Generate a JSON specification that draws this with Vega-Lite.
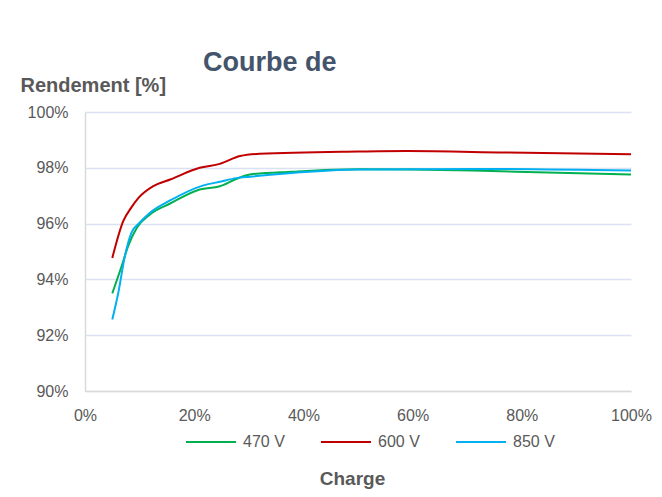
{
  "$schema": "https://vega.github.io/schema/vega-lite/v6.json",
  "autosize": "none",
  "width": 546,
  "height": 279,
  "padding": {"left": 85, "top": 112, "right": 31, "bottom": 106},
  "background": "white",
  "title": {
    "text": "Courbe de",
    "anchor": "start",
    "frame": "group",
    "dx": 118,
    "offset": -2,
    "font": "Liberation Sans",
    "fontSize": 27,
    "fontWeight": "bold",
    "color": "#44546A"
  },
  "data": {
    "values": [
      {"s": "470 V", "c": 0.05, "r": 0.935},
      {"s": "470 V", "c": 0.067, "r": 0.9447},
      {"s": "470 V", "c": 0.079, "r": 0.9519},
      {"s": "470 V", "c": 0.095, "r": 0.9585},
      {"s": "470 V", "c": 0.119, "r": 0.9633},
      {"s": "470 V", "c": 0.156, "r": 0.9672},
      {"s": "470 V", "c": 0.21, "r": 0.9722},
      {"s": "470 V", "c": 0.247, "r": 0.9734},
      {"s": "470 V", "c": 0.277, "r": 0.976},
      {"s": "470 V", "c": 0.302, "r": 0.9776},
      {"s": "470 V", "c": 0.38, "r": 0.9786},
      {"s": "470 V", "c": 0.5, "r": 0.9795},
      {"s": "470 V", "c": 0.71, "r": 0.979},
      {"s": "470 V", "c": 0.79, "r": 0.9786},
      {"s": "470 V", "c": 1.0, "r": 0.9776},
      {"s": "600 V", "c": 0.05, "r": 0.9477},
      {"s": "600 V", "c": 0.07, "r": 0.9609},
      {"s": "600 V", "c": 0.085, "r": 0.9658},
      {"s": "600 V", "c": 0.098, "r": 0.9692},
      {"s": "600 V", "c": 0.125, "r": 0.9734},
      {"s": "600 V", "c": 0.156, "r": 0.9758},
      {"s": "600 V", "c": 0.21, "r": 0.98},
      {"s": "600 V", "c": 0.247, "r": 0.9814},
      {"s": "600 V", "c": 0.284, "r": 0.9842},
      {"s": "600 V", "c": 0.32, "r": 0.985},
      {"s": "600 V", "c": 0.5, "r": 0.9858},
      {"s": "600 V", "c": 0.59, "r": 0.986},
      {"s": "600 V", "c": 0.77, "r": 0.9855},
      {"s": "600 V", "c": 1.0, "r": 0.9849},
      {"s": "850 V", "c": 0.05, "r": 0.9256},
      {"s": "850 V", "c": 0.061, "r": 0.9352},
      {"s": "850 V", "c": 0.073, "r": 0.9483},
      {"s": "850 V", "c": 0.085, "r": 0.9567},
      {"s": "850 V", "c": 0.1, "r": 0.9603},
      {"s": "850 V", "c": 0.119, "r": 0.9639},
      {"s": "850 V", "c": 0.156, "r": 0.9683},
      {"s": "850 V", "c": 0.217, "r": 0.9737},
      {"s": "850 V", "c": 0.247, "r": 0.975},
      {"s": "850 V", "c": 0.277, "r": 0.9763},
      {"s": "850 V", "c": 0.302, "r": 0.9768},
      {"s": "850 V", "c": 0.5, "r": 0.9794},
      {"s": "850 V", "c": 0.71, "r": 0.9796},
      {"s": "850 V", "c": 1.0, "r": 0.979}
    ]
  },
  "mark": {"type": "line", "interpolate": "monotone", "strokeWidth": 2},
  "encoding": {
    "x": {
      "field": "c",
      "type": "quantitative",
      "scale": {"domain": [0, 1], "nice": false},
      "axis": {
        "values": [0, 0.2, 0.4, 0.6, 0.8, 1.0],
        "format": ".0%",
        "labelFlush": false,
        "labelOverlap": false,
        "title": "Charge",
        "titleX": 267,
        "titleY": 93,
        "titleAnchor": "middle",
        "titleBaseline": "alphabetic",
        "titleFont": "Liberation Sans",
        "titleFontSize": 19,
        "titleFontWeight": "bold",
        "titleColor": "#595959",
        "labelFont": "Liberation Sans",
        "labelFontSize": 16,
        "labelColor": "#595959",
        "labelPadding": 16,
        "ticks": false,
        "grid": false,
        "domainColor": "#d9d9d9",
        "domainWidth": 1.5
      }
    },
    "y": {
      "field": "r",
      "type": "quantitative",
      "scale": {"domain": [0.9, 1.0], "nice": false, "zero": false},
      "axis": {
        "values": [0.9, 0.92, 0.94, 0.96, 0.98, 1.0],
        "format": ".0%",
        "title": "Rendement [%]",
        "titleAngle": 0,
        "titleX": -65,
        "titleY": -21,
        "titleAlign": "left",
        "titleBaseline": "alphabetic",
        "titleFont": "Liberation Sans",
        "titleFontSize": 20,
        "titleFontWeight": "bold",
        "titleColor": "#595959",
        "labelFont": "Liberation Sans",
        "labelFontSize": 16,
        "labelColor": "#595959",
        "labelPadding": 17,
        "ticks": false,
        "grid": true,
        "gridColor": "#dae1f3",
        "gridWidth": 1.5,
        "domainColor": "#d9d9d9",
        "domainWidth": 1.5
      }
    },
    "color": {
      "field": "s",
      "type": "nominal",
      "scale": {"domain": ["470 V", "600 V", "850 V"], "range": ["#00B050", "#C00000", "#00B0F0"]},
      "legend": {
        "title": null,
        "orient": "none",
        "direction": "horizontal",
        "legendX": 100,
        "legendY": 304,
        "symbolType": "stroke",
        "symbolSize": 2500,
        "symbolStrokeWidth": 2,
        "labelFont": "Liberation Sans",
        "labelFontSize": 16,
        "labelColor": "#595959",
        "labelOffset": 6,
        "columnPadding": 32
      }
    }
  },
  "config": {"view": {"stroke": null}}
}
